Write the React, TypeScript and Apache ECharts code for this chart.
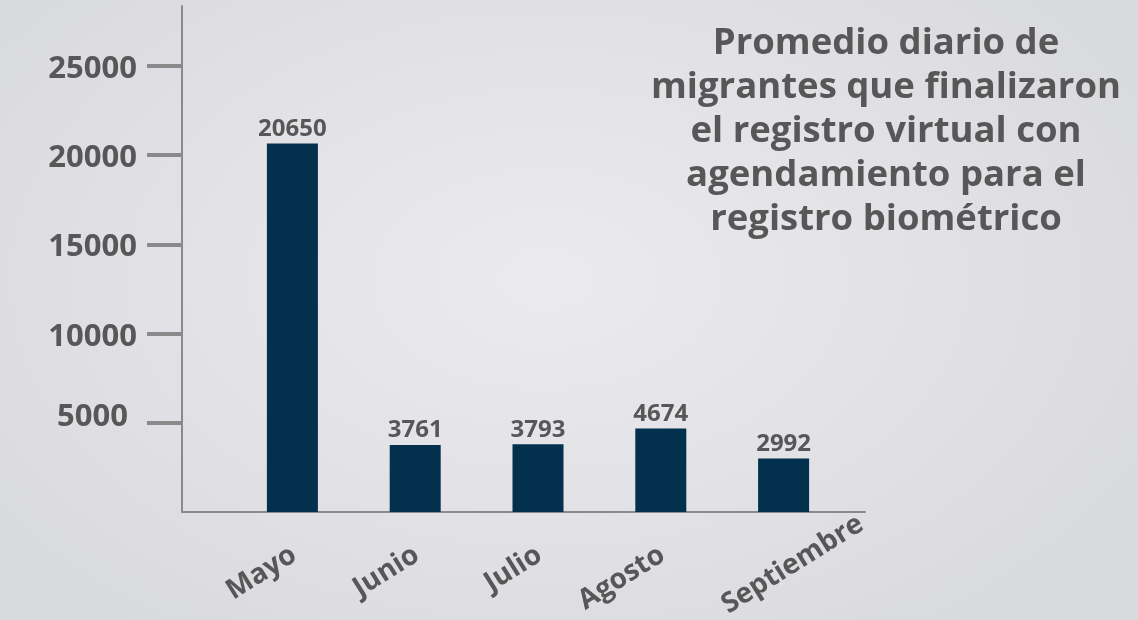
import React, { useEffect, useRef } from "react";
import * as echarts from "echarts";

const categories = ["Mayo", "Junio", "Julio", "Agosto", "Septiembre"];
const values = [20650, 3761, 3793, 4674, 2992];
const yTicks = [5000, 10000, 15000, 20000, 25000];
const titleLines = [
  "Promedio diario de",
  "migrantes que finalizaron",
  "el registro virtual con",
  "agendamiento para el",
  "registro biométrico",
];

const FONT = "'Open Sans', 'Noto Sans', sans-serif";
const TEXT = "#575757";
const AXIS = "#8a8a8a";
const BAR = "#02304d";
const YMAX = 28360;

export default function App() {
  const ref = useRef<HTMLDivElement>(null);
  useEffect(() => {
    if (!ref.current) return;
    const chart = echarts.init(ref.current, undefined, { renderer: "svg" });
    const gridTop = 6;
    const gridBottom = 108;
    const catData = categories.map((c, i) =>
      i === categories.length - 1
        ? { value: c, textStyle: { align: "center", verticalAlign: "top" } }
        : c
    );
    chart.setOption({
      animation: false,
      backgroundColor: "transparent",
      grid: [
        { left: 231, right: 293, top: gridTop, bottom: gridBottom, containLabel: false, outerBoundsMode: "none" },
        { left: 182, right: 273, top: gridTop, bottom: gridBottom, containLabel: false, outerBoundsMode: "none" },
      ],
      xAxis: [
        {
          type: "category",
          gridIndex: 0,
          data: catData,
          axisLine: { show: false },
          axisTick: { show: false },
          axisLabel: {
            rotate: 32,
            margin: 38,
            fontFamily: FONT,
            fontWeight: "bold",
            fontSize: 28,
            color: TEXT,
            interval: 0,
            hideOverlap: false,
          },
        },
        {
          type: "value",
          gridIndex: 1,
          min: 0,
          max: 1,
          axisLine: { show: true, onZero: false, lineStyle: { color: AXIS, width: 2 } },
          axisTick: { show: false },
          axisLabel: { show: false },
          splitLine: { show: false },
        },
      ],
      yAxis: [
        { type: "value", gridIndex: 0, min: 0, max: YMAX, show: false },
        {
          type: "value",
          gridIndex: 1,
          min: 0,
          max: YMAX,
          interval: 5000,
          axisLine: { show: true, lineStyle: { color: AXIS, width: 2 } },
          axisTick: {
            show: true,
            length: 35,
            customValues: yTicks,
            lineStyle: { color: AXIS, width: 4 },
          },
          axisLabel: {
            customValues: yTicks,
            formatter: (v: number) => (v === 5000 ? "{s|" + v + "}" : String(v)),
            rich: {
              s: {
                fontFamily: FONT,
                fontWeight: "bold",
                fontSize: 31,
                color: TEXT,
                padding: [0, 9, 18, 0],
              },
            },
            margin: 45,
            fontFamily: FONT,
            fontWeight: "bold",
            fontSize: 31,
            color: TEXT,
          },
          splitLine: { show: false },
        },
      ],
      series: [
        {
          type: "bar",
          xAxisIndex: 0,
          yAxisIndex: 0,
          data: values,
          barWidth: 51,
          itemStyle: { color: BAR },
          label: {
            show: true,
            position: "top",
            distance: 5,
            fontFamily: FONT,
            fontWeight: "bold",
            fontSize: 24,
            color: TEXT,
          },
        },
      ],
      graphic: [
        {
          type: "text",
          x: 886,
          y: 18,
          style: {
            text: titleLines.join("\n"),
            fontFamily: FONT,
            fontWeight: "bold",
            fontSize: 36.5,
            lineHeight: 44,
            fill: TEXT,
            align: "center",
            verticalAlign: "top",
          },
        },
      ],
    });
    return () => chart.dispose();
  }, []);
  return (
    <div
      style={{
        position: "fixed",
        left: 0,
        top: 0,
        width: 1138,
        height: 620,
        background:
          "radial-gradient(ellipse 60% 70% at 48% 45%, #ebebee 0%, #e2e2e6 55%, #d9dadd 100%)",
      }}
    >
      <div ref={ref} style={{ width: 1138, height: 620 }} />
    </div>
  );
}
